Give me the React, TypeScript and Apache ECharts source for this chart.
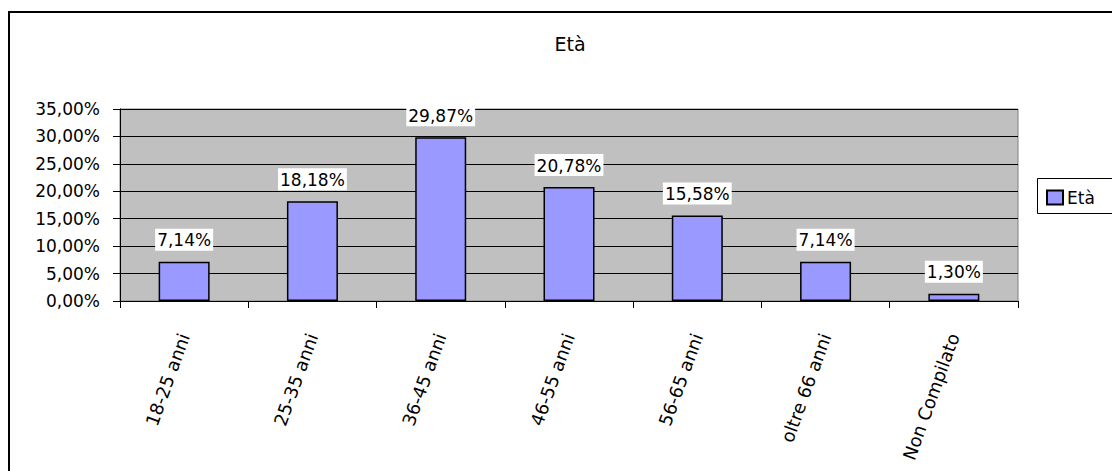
import React, { useEffect, useRef } from "react";
import * as echarts from "echarts";

const categories = ["18-25 anni", "25-35 anni", "36-45 anni", "46-55 anni", "56-65 anni", "oltre 66 anni", "Non Compilato"];
const values = [7.14, 18.18, 29.87, 20.78, 15.58, 7.14, 1.3];
const seriesName = "Età";
const chartTitle = "Età";

const FONT = "DejaVu Sans";
const fmt = (v: number) => v.toFixed(2).replace(".", ",") + "%";

export default function App() {
  const ref = useRef<HTMLDivElement>(null);
  useEffect(() => {
    if (!ref.current) return;
    const chart = echarts.init(ref.current, null, { renderer: "svg" });
    chart.setOption({
      animation: false,
      backgroundColor: "#ffffff",
      textStyle: { fontFamily: FONT },
      title: {
        text: chartTitle,
        left: 565,
        textAlign: "center",
        top: 29,
        textStyle: { fontFamily: FONT, fontSize: 19, fontWeight: "normal", color: "#000" },
      },
      legend: {
        left: 1046,
        top: 189,
        orient: "vertical",
        padding: 0,
        itemWidth: 16,
        itemHeight: 14,
        itemGap: 5,
        icon: "rect",
        textStyle: { fontFamily: FONT, fontSize: 17, color: "#000", padding: [0, 0, 0, -1] },
        data: [seriesName],
      },
      graphic: [
        {
          type: "rect",
          shape: { x: 9, y: 12, width: 1300, height: 700 },
          style: { fill: "none", stroke: "#000", lineWidth: 2 },
          silent: true,
          z: 100,
        },
        {
          type: "rect",
          shape: { x: 1037.5, y: 178.5, width: 200, height: 35 },
          style: { fill: "none", stroke: "#000", lineWidth: 1 },
          silent: true,
          z: 100,
        },
      ],
      grid: {
        left: 120,
        right: 94,
        top: 109,
        bottom: 170,
        show: true,
        backgroundColor: "#C0C0C0",
        borderColor: "#808080",
        borderWidth: 1,
      },
      xAxis: {
        type: "category",
        data: categories,
        boundaryGap: true,
        axisLine: { show: true, lineStyle: { color: "#000", width: 1 } },
        axisTick: { show: true, length: 7, alignWithLabel: false, lineStyle: { color: "#000" } },
        axisLabel: {
          rotate: 70,
          margin: 33,
          interval: 0,
          fontFamily: FONT,
          fontSize: 18,
          color: "#000",
        },
      },
      yAxis: {
        type: "value",
        min: 0,
        max: 35,
        interval: 5,
        axisLine: { show: true, lineStyle: { color: "#000", width: 1 } },
        axisTick: { show: true, length: 7, lineStyle: { color: "#000" } },
        splitLine: { show: true, lineStyle: { color: "#000", width: 1 } },
        axisLabel: {
          margin: 20,
          fontFamily: FONT,
          fontSize: 17,
          color: "#000",
          formatter: (v: number) => fmt(v),
        },
      },
      series: [
        {
          name: seriesName,
          type: "bar",
          data: values,
          barWidth: 51,
          itemStyle: { color: "#9999FF", borderColor: "#000", borderWidth: 1.5 },
          label: {
            show: true,
            position: "top",
            distance: 11,
            backgroundColor: "#ffffff",
            padding: [3, 2, 2, 2],
            fontFamily: FONT,
            fontSize: 17,
            color: "#000",
            formatter: (p: any) => fmt(p.value),
          },
        },
      ],
    });
    return () => chart.dispose();
  }, []);
  return <div ref={ref} style={{ position: "fixed", left: 0, top: 0, width: 1112, height: 471 }} />;
}
